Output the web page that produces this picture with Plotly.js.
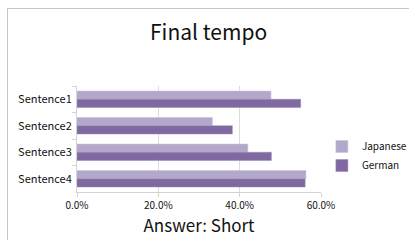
<!DOCTYPE html>
<html>
<head>
<meta charset="utf-8">
<script src="https://cdn.plot.ly/plotly-3.0.1.min.js"></script>
<style>
html,body{margin:0;padding:0;background:#fff;}
#wrap{position:relative;width:409px;height:240px;overflow:hidden;}
#chart{width:409px;height:240px;}
#frame{position:absolute;left:7px;top:8px;width:420px;height:250px;border-left:1.5px solid #c6c6c6;border-top:1.5px solid #c6c6c6;pointer-events:none;}
</style>
</head>
<body>
<div id="wrap"><div id="chart"></div><div id="frame"></div></div>
<script>
var categories = ["Sentence1", "Sentence2", "Sentence3", "Sentence4"];
var japanese = [0.477, 0.333, 0.420, 0.563];
var german = [0.550, 0.382, 0.478, 0.561];
var seriesNames = ["Japanese", "German"];
var xTickVals = [0, 0.2, 0.4, 0.6];
var xTickText = ["0.0%", "20.0%", "40.0%", "60.0%"];

var font = "Noto Sans CJK JP, Noto Sans, sans-serif";

var data = [
  {type: "bar", orientation: "h", name: seriesNames[0], y: categories, x: japanese,
   marker: {color: "#b3a8c9", line: {color: "#c9c0da", width: 0.5}}},
  {type: "bar", orientation: "h", name: seriesNames[1], y: categories, x: german,
   marker: {color: "#8069a1", line: {color: "#9a86b6", width: 0.5}}}
];

var layout = {
  width: 409, height: 240,
  margin: {l: 77, r: 88, t: 86, b: 48},
  paper_bgcolor: "#fff", plot_bgcolor: "#fff",
  font: {family: font, color: "#111", size: 10},
  title: {text: "Final tempo", font: {family: font, size: 21, color: "#111"}, x: 0.51, xanchor: "center", y: 0.862, yanchor: "middle"},
  barmode: "group", bargap: 0.38, bargroupgap: 0,
  showlegend: true,
  legend: {xref: "container", yref: "container", x: 0.787, y: 0.35, xanchor: "left", yanchor: "middle",
           font: {family: font, size: 10, color: "#111"}, tracegroupgap: 4, itemwidth: 30, borderwidth: 0, bgcolor: "rgba(0,0,0,0)"},
  xaxis: {
    range: [0, 0.6], tickvals: xTickVals, ticktext: xTickText,
    showgrid: true, gridcolor: "#dcdcdc", gridwidth: 1,
    showline: true, linecolor: "#d4d4d4", linewidth: 1,
    ticks: "outside", ticklen: 4, tickcolor: "#d4d4d4",
    zeroline: false, fixedrange: true, automargin: false,
    tickfont: {family: font, size: 10, color: "#111"},
    title: {text: "Answer: Short", font: {family: font, size: 17, color: "#111"}, standoff: 8}
  },
  yaxis: {
    type: "category", autorange: "reversed",
    showline: true, linecolor: "#d4d4d4", linewidth: 1,
    ticks: "outside", ticklen: 4, tickcolor: "#d4d4d4", tickson: "boundaries",
    showgrid: false, zeroline: false, automargin: false,
    tickfont: {family: font, size: 11, color: "#111"},
    ticklabelstandoff: 2
  }
};

Plotly.newPlot("chart", data, layout, {displayModeBar: false, staticPlot: true});
</script>
</body>
</html>
